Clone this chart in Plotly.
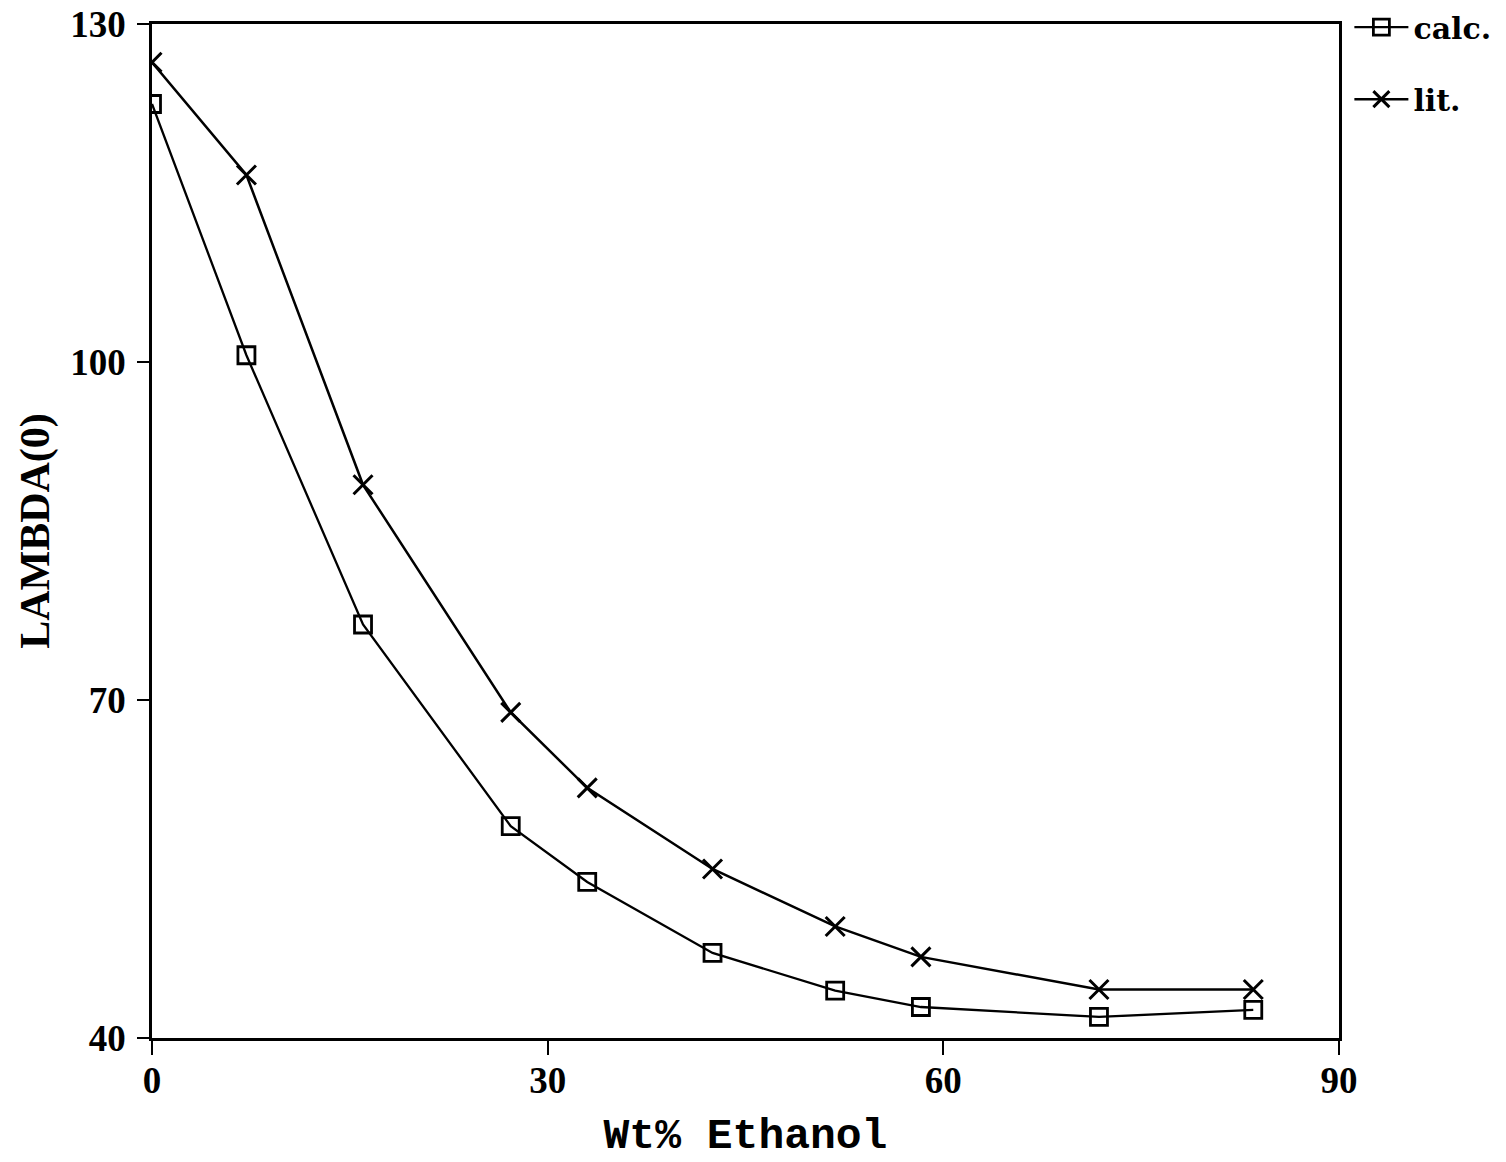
import plotly.graph_objects as go

# Ethanol content (wt%) of the solvent mixtures
wt_ethanol = [0.0, 7.16, 16.0, 27.2, 33.0, 42.5, 51.8, 58.3, 71.8, 83.5]

# Limiting equivalent conductance, calculated vs. literature
lambda_calc = [122.9, 100.6, 76.7, 58.8, 53.85, 47.55, 44.2, 42.75, 41.87, 42.5]
lambda_lit = [126.6, 116.6, 89.1, 68.9, 62.2, 55.0, 49.9, 47.2, 44.3, 44.3]

x_ticks = [0, 30, 60, 90]
y_ticks = [40, 70, 100, 130]

SERIF = "Liberation Serif"
WIDE_SERIF = "DejaVu Serif"
MONO = "Liberation Mono"

fig = go.Figure()
fig.add_trace(go.Scatter(
    x=wt_ethanol, y=lambda_calc, name="calc.", legendgroup="calc",
    mode="lines+markers",
    line=dict(color="black", width=2.3),
    marker=dict(symbol="square-open", size=17, color="black",
                line=dict(color="black", width=2.8)),
))
fig.add_trace(go.Scatter(
    x=wt_ethanol, y=lambda_lit, name="lit.", legendgroup="lit",
    mode="lines+markers",
    line=dict(color="black", width=2.5),
    marker=dict(symbol="x-thin-open", size=19, color="black",
                line=dict(color="black", width=3)),
))

axis_common = dict(
    showgrid=False, zeroline=False, automargin=False,
    showline=True, linecolor="black", linewidth=2.5, mirror=True,
    ticks="outside", tickcolor="black", tickwidth=2.2,
    tickfont=dict(family=SERIF, size=37, color="black", weight="bold"),
)

fig.update_xaxes(
    range=[0, 90], tickvals=x_ticks, ticklen=14, ticklabelstandoff=-6,
    title=dict(text="Wt% Ethanol",
               font=dict(family=MONO, size=43, color="black", weight="bold"),
               standoff=18),
    **axis_common,
)
fig.update_yaxes(
    range=[40, 130], tickvals=y_ticks, ticklen=12, ticklabelstandoff=4,
    title=dict(text="LAMBDA(0)",
               font=dict(family=SERIF, size=42, color="black", weight="bold"),
               standoff=8),
    **axis_common,
)

fig.update_layout(
    width=1506, height=1162,
    margin=dict(l=152, r=167, t=24, b=124),
    paper_bgcolor="white", plot_bgcolor="white",
    font=dict(family=SERIF, color="black"),
    legend=dict(
        xref="container", yref="container",
        x=0.896, y=0.999, xanchor="left", yanchor="top",
        font=dict(family=WIDE_SERIF, size=30, color="black", weight="bold"),
        tracegroupgap=30, itemwidth=54,
        bgcolor="rgba(0,0,0,0)",
    ),
)

fig.write_html("out.html")
